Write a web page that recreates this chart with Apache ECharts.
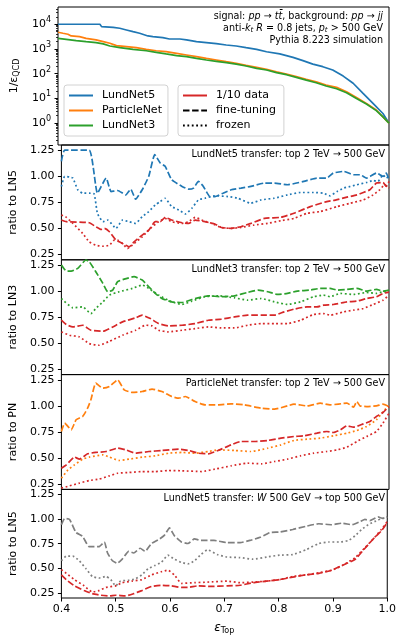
<!DOCTYPE html>
<html>
<head>
<meta charset="utf-8">
<script src="https://cdn.jsdelivr.net/npm/echarts@6/dist/echarts.min.js"></script>
<style>
  html, body { margin: 0; padding: 0; background: #fff; }
  #chart { width: 399px; height: 636px; }
</style>
</head>
<body>
<div id="chart"></div>
<script>
// ---------- data: [epsilon_top, value] ----------
// background rejection 1/eps_QCD of the three taggers trained on 500 GeV tops
const rocLundNet5 = [[0.400,10000],[0.476,10000],[0.479,8035],[0.500,7550],[0.512,6890],[0.524,5890],[0.536,5010],[0.548,4315],[0.563,3365],[0.572,3160],[0.590,2885],[0.602,2540],[0.621,2540],[0.633,2320],[0.651,1980],[0.669,1805],[0.687,1645],[0.705,1450],[0.723,1320],[0.741,1130],[0.760,970],[0.778,775],[0.802,630],[0.826,457],[0.844,337],[0.862,245],[0.880,192],[0.898,141],[0.917,80],[0.935,41],[0.953,16],[0.971,6.3],[0.989,2.45],[1.0,1.0]];
const rocParticleNet = [[0.400,4740],[0.409,4315],[0.418,3935],[0.424,3365],[0.439,3160],[0.451,2690],[0.469,2320],[0.482,1980],[0.494,1700],[0.506,1365],[0.524,1245],[0.542,1130],[0.560,970],[0.578,850],[0.596,775],[0.615,667],[0.633,571],[0.651,490],[0.669,417],[0.687,358],[0.705,306],[0.723,263],[0.741,218],[0.760,181],[0.778,150],[0.796,120],[0.814,97],[0.832,76],[0.850,59],[0.868,47],[0.886,35],[0.905,28],[0.923,18.6],[0.941,11],[0.959,6.3],[0.977,3.4],[0.989,1.8],[1.0,1.0]];
const rocLundNet3 = [[0.400,2700],[0.415,2455],[0.433,2180],[0.451,1980],[0.469,1805],[0.482,1600],[0.494,1320],[0.512,1130],[0.536,970],[0.560,850],[0.578,733],[0.596,630],[0.615,540],[0.633,490],[0.651,417],[0.669,358],[0.687,316],[0.705,279],[0.723,245],[0.741,205],[0.760,164],[0.778,141],[0.796,110],[0.814,91],[0.832,71],[0.850,55],[0.868,43],[0.886,31.6],[0.905,24.5],[0.923,17],[0.941,10],[0.959,5.9],[0.977,3.2],[0.989,1.8],[1.0,1.0]];

// LundNet5 transfer: top 2 TeV -> 500 GeV (ratio to LN5)
const ln5FineTune = [[0.400,1.144],[0.406,1.25],[0.451,1.25],[0.466,0.838],[0.482,0.983],[0.491,0.854],[0.503,0.864],[0.518,0.822],[0.527,0.877],[0.536,0.781],[0.548,0.871],[0.560,1.0],[0.571,1.208],[0.581,1.128],[0.590,1.096],[0.602,0.967],[0.621,0.903],[0.633,0.877],[0.642,0.887],[0.651,0.951],[0.660,0.903],[0.672,0.806],[0.681,0.806],[0.696,0.838],[0.711,0.871],[0.729,0.887],[0.747,0.903],[0.772,0.935],[0.790,0.935],[0.814,0.919],[0.844,0.951],[0.868,0.983],[0.886,0.983],[0.898,1.031],[0.917,1.047],[0.935,1.015],[0.947,1.015],[0.959,0.983],[0.977,1.031],[0.989,1.0],[0.995,1.031],[1.0,0.967]];
const ln5Frozen = [[0.400,0.903],[0.406,1.0],[0.415,0.993],[0.421,0.983],[0.430,0.871],[0.439,0.838],[0.451,0.838],[0.460,0.832],[0.466,0.646],[0.476,0.565],[0.485,0.581],[0.500,0.501],[0.512,0.581],[0.524,0.565],[0.536,0.549],[0.548,0.613],[0.560,0.662],[0.572,0.726],[0.581,0.758],[0.590,0.79],[0.602,0.71],[0.615,0.678],[0.627,0.639],[0.639,0.694],[0.651,0.774],[0.663,0.79],[0.681,0.813],[0.705,0.806],[0.723,0.79],[0.747,0.742],[0.766,0.774],[0.790,0.79],[0.814,0.822],[0.838,0.845],[0.862,0.845],[0.880,0.838],[0.892,0.813],[0.905,0.855],[0.917,0.887],[0.929,0.903],[0.941,0.919],[0.959,0.941],[0.971,0.96],[0.980,0.951],[0.989,1.015],[0.995,0.983],[1.0,1.0]];
const ln5TenthFineTune = [[0.400,0.581],[0.409,0.565],[0.451,0.555],[0.463,0.517],[0.473,0.491],[0.479,0.501],[0.488,0.469],[0.500,0.388],[0.506,0.372],[0.518,0.34],[0.524,0.324],[0.533,0.372],[0.548,0.437],[0.560,0.485],[0.572,0.565],[0.581,0.565],[0.590,0.607],[0.602,0.581],[0.621,0.555],[0.633,0.549],[0.645,0.581],[0.663,0.565],[0.681,0.543],[0.693,0.51],[0.711,0.501],[0.729,0.517],[0.747,0.549],[0.772,0.597],[0.802,0.607],[0.826,0.646],[0.856,0.71],[0.886,0.758],[0.898,0.768],[0.923,0.8],[0.941,0.822],[0.953,0.845],[0.965,0.871],[0.977,0.935],[0.989,0.941],[0.995,0.903],[1.0,0.951]];
const ln5TenthFrozen = [[0.400,0.629],[0.409,0.607],[0.421,0.549],[0.439,0.453],[0.451,0.372],[0.463,0.34],[0.476,0.33],[0.488,0.34],[0.497,0.388],[0.503,0.388],[0.512,0.356],[0.521,0.308],[0.533,0.356],[0.548,0.42],[0.563,0.501],[0.578,0.565],[0.590,0.597],[0.602,0.565],[0.621,0.549],[0.633,0.565],[0.645,0.607],[0.657,0.581],[0.675,0.549],[0.693,0.51],[0.711,0.501],[0.729,0.51],[0.753,0.533],[0.778,0.549],[0.802,0.575],[0.826,0.597],[0.850,0.646],[0.874,0.662],[0.905,0.71],[0.929,0.742],[0.953,0.774],[0.971,0.822],[0.983,0.871],[0.992,0.919],[1.0,0.887]];

// LundNet3 transfer: top 2 TeV -> 500 GeV (ratio to LN3)
const ln3FineTune = [[0.400,1.25],[0.409,1.192],[0.418,1.192],[0.430,1.218],[0.445,1.298],[0.451,1.282],[0.463,1.186],[0.476,1.074],[0.485,0.994],[0.494,1.01],[0.503,1.09],[0.515,1.115],[0.533,1.138],[0.548,1.106],[0.560,1.042],[0.572,0.978],[0.584,0.929],[0.602,0.897],[0.621,0.891],[0.645,0.929],[0.669,0.955],[0.693,0.946],[0.717,0.955],[0.741,0.987],[0.760,1.01],[0.778,0.994],[0.796,0.968],[0.814,0.978],[0.832,1.0],[0.856,1.01],[0.874,1.026],[0.892,1.026],[0.905,1.01],[0.923,1.016],[0.941,1.026],[0.959,1.0],[0.977,1.016],[0.989,1.0],[1.0,1.01]];
const ln3Frozen = [[0.400,0.929],[0.421,0.84],[0.439,0.849],[0.454,0.785],[0.463,0.833],[0.476,0.897],[0.488,0.962],[0.506,0.994],[0.530,1.026],[0.548,1.058],[0.560,1.026],[0.578,0.962],[0.602,0.897],[0.621,0.872],[0.639,0.904],[0.663,0.946],[0.687,0.955],[0.717,0.936],[0.741,0.913],[0.766,0.929],[0.790,0.897],[0.814,0.872],[0.838,0.897],[0.862,0.946],[0.880,0.962],[0.892,0.946],[0.911,0.978],[0.935,0.968],[0.959,0.987],[0.977,0.978],[0.989,0.994],[1.0,1.0]];
const ln3TenthFineTune = [[0.400,0.721],[0.409,0.679],[0.421,0.657],[0.439,0.673],[0.454,0.625],[0.476,0.615],[0.494,0.657],[0.512,0.705],[0.536,0.744],[0.548,0.769],[0.563,0.737],[0.578,0.689],[0.596,0.667],[0.621,0.673],[0.645,0.689],[0.669,0.721],[0.693,0.731],[0.717,0.753],[0.741,0.769],[0.766,0.769],[0.790,0.769],[0.808,0.801],[0.826,0.827],[0.850,0.849],[0.868,0.849],[0.880,0.865],[0.898,0.872],[0.923,0.897],[0.941,0.904],[0.959,0.929],[0.977,0.946],[0.989,0.978],[1.0,0.99]];
const ln3TenthFrozen = [[0.400,0.609],[0.415,0.577],[0.433,0.561],[0.451,0.497],[0.469,0.481],[0.488,0.519],[0.512,0.577],[0.536,0.625],[0.554,0.673],[0.566,0.667],[0.578,0.625],[0.596,0.609],[0.621,0.625],[0.645,0.641],[0.669,0.657],[0.693,0.647],[0.717,0.647],[0.741,0.673],[0.766,0.689],[0.790,0.689],[0.814,0.689],[0.838,0.721],[0.862,0.776],[0.880,0.785],[0.892,0.769],[0.917,0.801],[0.935,0.817],[0.953,0.833],[0.971,0.872],[0.989,0.913],[1.0,0.962]];

// ParticleNet transfer: top 2 TeV -> 500 GeV (ratio to PN)
const pnFineTune = [[0.400,0.755],[0.406,0.835],[0.418,0.771],[0.427,0.867],[0.439,0.899],[0.448,0.978],[0.454,1.058],[0.463,1.218],[0.476,1.17],[0.488,1.186],[0.503,1.25],[0.515,1.154],[0.530,1.129],[0.548,1.138],[0.566,1.161],[0.584,1.138],[0.602,1.09],[0.615,1.074],[0.627,1.09],[0.645,1.042],[0.663,1.01],[0.687,1.01],[0.711,1.02],[0.735,1.01],[0.766,0.978],[0.790,0.969],[0.814,1.0],[0.826,1.017],[0.850,1.0],[0.874,1.026],[0.892,1.01],[0.923,1.026],[0.935,0.988],[0.941,1.042],[0.947,1.0],[0.959,0.994],[0.977,1.0],[0.989,1.017],[1.0,0.994]];
const pnFrozen = [[0.400,0.307],[0.412,0.387],[0.424,0.435],[0.439,0.49],[0.451,0.509],[0.476,0.531],[0.488,0.509],[0.506,0.477],[0.524,0.49],[0.548,0.509],[0.572,0.522],[0.596,0.547],[0.621,0.554],[0.645,0.547],[0.669,0.563],[0.687,0.579],[0.717,0.573],[0.747,0.563],[0.778,0.595],[0.802,0.627],[0.826,0.669],[0.850,0.681],[0.874,0.691],[0.898,0.713],[0.923,0.739],[0.941,0.764],[0.959,0.803],[0.977,0.867],[0.992,0.962],[1.0,0.994]];
const pnTenthFineTune = [[0.400,0.403],[0.409,0.435],[0.424,0.509],[0.433,0.49],[0.448,0.541],[0.463,0.554],[0.482,0.563],[0.503,0.595],[0.518,0.579],[0.536,0.547],[0.560,0.563],[0.584,0.573],[0.615,0.585],[0.633,0.573],[0.651,0.547],[0.669,0.541],[0.687,0.573],[0.711,0.627],[0.729,0.659],[0.753,0.659],[0.778,0.669],[0.802,0.691],[0.826,0.707],[0.844,0.713],[0.868,0.739],[0.886,0.755],[0.898,0.745],[0.911,0.771],[0.923,0.809],[0.935,0.796],[0.953,0.828],[0.965,0.851],[0.977,0.899],[0.989,0.937],[1.0,0.994]];
const pnTenthFrozen = [[0.400,0.212],[0.415,0.234],[0.433,0.26],[0.451,0.285],[0.469,0.298],[0.488,0.33],[0.503,0.355],[0.524,0.362],[0.548,0.371],[0.572,0.371],[0.596,0.381],[0.621,0.378],[0.657,0.371],[0.681,0.394],[0.711,0.426],[0.741,0.451],[0.766,0.445],[0.790,0.467],[0.814,0.49],[0.838,0.522],[0.862,0.547],[0.886,0.563],[0.905,0.579],[0.923,0.605],[0.941,0.659],[0.959,0.707],[0.977,0.755],[0.989,0.835],[1.0,0.93]];

// LundNet5 transfer: W 500 GeV -> top 500 GeV (ratio to LN5)
const wFineTune = [[0.400,0.942],[0.406,1.006],[0.415,0.996],[0.427,0.863],[0.439,0.825],[0.451,0.72],[0.469,0.72],[0.479,0.767],[0.485,0.656],[0.494,0.577],[0.503,0.552],[0.512,0.593],[0.524,0.672],[0.533,0.656],[0.545,0.704],[0.554,0.672],[0.566,0.752],[0.581,0.799],[0.590,0.837],[0.599,0.91],[0.608,0.831],[0.621,0.767],[0.633,0.752],[0.645,0.799],[0.657,0.783],[0.681,0.783],[0.705,0.761],[0.729,0.761],[0.747,0.783],[0.766,0.815],[0.784,0.863],[0.802,0.869],[0.826,0.894],[0.850,0.926],[0.874,0.952],[0.898,0.942],[0.917,0.958],[0.935,0.942],[0.950,0.974],[0.959,0.996],[0.968,0.983],[0.983,1.021],[0.992,1.006],[1.0,1.021]];
const wFrozen = [[0.400,0.577],[0.409,0.625],[0.421,0.625],[0.433,0.577],[0.445,0.498],[0.457,0.418],[0.469,0.402],[0.482,0.418],[0.491,0.386],[0.500,0.323],[0.509,0.371],[0.524,0.38],[0.536,0.393],[0.548,0.434],[0.560,0.498],[0.572,0.529],[0.584,0.561],[0.596,0.634],[0.608,0.593],[0.621,0.561],[0.633,0.545],[0.645,0.577],[0.657,0.64],[0.669,0.688],[0.687,0.64],[0.705,0.615],[0.729,0.609],[0.753,0.593],[0.778,0.615],[0.802,0.634],[0.826,0.64],[0.850,0.688],[0.874,0.752],[0.892,0.767],[0.911,0.767],[0.929,0.783],[0.941,0.831],[0.953,0.894],[0.965,0.942],[0.983,0.99],[1.0,1.021]];
const wTenthFineTune = [[0.400,0.434],[0.409,0.386],[0.424,0.323],[0.442,0.275],[0.457,0.244],[0.473,0.228],[0.488,0.221],[0.500,0.228],[0.518,0.221],[0.533,0.244],[0.548,0.275],[0.566,0.317],[0.584,0.329],[0.602,0.323],[0.621,0.307],[0.633,0.307],[0.651,0.323],[0.675,0.317],[0.705,0.323],[0.729,0.329],[0.753,0.355],[0.778,0.371],[0.802,0.386],[0.826,0.412],[0.850,0.434],[0.874,0.45],[0.898,0.482],[0.917,0.529],[0.941,0.593],[0.959,0.704],[0.977,0.815],[0.989,0.879],[1.0,0.964]];
const wTenthFrozen = [[0.400,0.488],[0.409,0.45],[0.424,0.386],[0.442,0.323],[0.457,0.26],[0.469,0.275],[0.482,0.307],[0.500,0.323],[0.512,0.355],[0.530,0.371],[0.548,0.386],[0.566,0.434],[0.584,0.466],[0.596,0.482],[0.608,0.434],[0.621,0.348],[0.645,0.355],[0.669,0.361],[0.705,0.371],[0.729,0.355],[0.753,0.361],[0.778,0.371],[0.802,0.386],[0.826,0.418],[0.850,0.434],[0.874,0.456],[0.898,0.482],[0.917,0.529],[0.941,0.609],[0.959,0.71],[0.977,0.815],[0.989,0.894],[1.0,0.974]];

// axis ticks
const ratioTicks = [0.25, 0.5, 0.75, 1.0, 1.25];
const panelTitles = [
  'LundNet5 transfer: top 2 TeV \u2192 500 GeV',
  'LundNet3 transfer: top 2 TeV \u2192 500 GeV',
  'ParticleNet transfer: top 2 TeV \u2192 500 GeV',
  'LundNet5 transfer: {i|W} 500 GeV \u2192 top 500 GeV'
];
const ratioNames = ['ratio to LN5', 'ratio to LN3', 'ratio to PN', 'ratio to LN5'];

// ---------- styling ----------
const C = { blue: '#1f77b4', orange: '#ff7f0e', green: '#2ca02c', red: '#d62728', gray: '#7f7f7f', black: '#000' };
const FONT = 'DejaVu Sans';
const DASH = [6.5, 2.6];
const DOT = [1.8, 2.6];
const LW = 1.7;
const TXT = 9.6;

const LEFT = 58, WIDTH = 331;
const TOPS = [7, 145, 259.8, 374.6, 489.4];
const HEIGHTS = [138, 114.8, 114.8, 114.8, 114.6];

const grids = TOPS.map((t, i) => ({
  left: LEFT, top: t, width: WIDTH, height: HEIGHTS[i],
  show: true, borderColor: '#000', borderWidth: 1, backgroundColor: 'transparent'
}));

const xAxes = TOPS.map((t, i) => {
  const last = i === TOPS.length - 1;
  return {
    type: 'value', gridIndex: i, min: 0.4, max: 1.0, interval: 0.1,
    axisLine: { show: false },
    splitLine: { show: false },
    axisTick: { show: last, length: 3.5, lineStyle: { color: '#000', width: 1 } },
    axisLabel: {
      show: last, margin: 6, fontSize: 11, fontFamily: FONT, color: '#000',
      formatter: v => v.toFixed(1)
    },
    name: last ? '{e|\u03b5}{sub|Top}' : '',
    nameLocation: 'middle', nameGap: 23,
    nameTextStyle: {
      fontFamily: FONT, color: '#000', fontSize: 11,
      rich: { e: { fontSize: 12, fontFamily: FONT, fontStyle: 'italic', color: '#000' },
              sub: { fontSize: 8, fontFamily: FONT, color: '#000', verticalAlign: 'bottom', padding: [6, 0, 0, 0] } }
    }
  };
});

// minor tick positions of the log axis (2..9 x each decade)
const minorLog = [];
for (let d = -1; d <= 4; d++) for (let m = 2; m <= 9; m++) {
  const v = m * Math.pow(10, d);
  if (v > 0.13 && v < 50000) minorLog.push(v);
}

const yAxes = [
  {
    type: 'log', logBase: 10, gridIndex: 0, min: 0.13, max: 50000,
    axisLine: { show: false }, splitLine: { show: false },
    axisTick: { length: 3.5, lineStyle: { color: '#000', width: 1 } },
    axisLabel: {
      showMinLabel: false, showMaxLabel: false, margin: 7,
      fontSize: 11, fontFamily: FONT, color: '#000', lineHeight: 16,
      formatter: v => '10{sup|' + Math.round(Math.log10(v)) + '}',
      rich: { sup: { fontSize: 8, fontFamily: FONT, color: '#000', lineHeight: 8, verticalAlign: 'top', padding: [0, 0, 7, 0] } }
    },
    name: '1/\u03b5{sub|QCD}', nameLocation: 'middle', nameGap: 35,
    nameTextStyle: {
      fontSize: 11, fontFamily: FONT, color: '#000',
      rich: { sub: { fontSize: 8, fontFamily: FONT, color: '#000', verticalAlign: 'bottom', padding: [5, 0, 0, 0] } }
    }
  }
];
for (let i = 1; i <= 4; i++) {
  yAxes.push({
    type: 'value', gridIndex: i, min: 0.2, max: 1.3,
    axisLine: { show: false }, splitLine: { show: false },
    axisTick: { length: 3.5, customValues: ratioTicks, lineStyle: { color: '#000', width: 1 } },
    axisLabel: { margin: 7, fontSize: 11, fontFamily: FONT, color: '#000', customValues: ratioTicks, formatter: v => v.toFixed(2) },
    name: ratioNames[i - 1], nameLocation: 'middle', nameGap: 35,
    nameTextStyle: { fontSize: 11, fontFamily: FONT, color: '#000' }
  });
}
// minor ticks on the log axis
yAxes.push({
  type: 'log', logBase: 10, gridIndex: 0, min: 0.13, max: 50000, position: 'left',
  axisLine: { show: false }, splitLine: { show: false }, axisLabel: { show: false },
  axisTick: { length: 2, customValues: minorLog, lineStyle: { color: '#000', width: 0.8 } }
});

function line(name, data, color, dash, grid, smooth) {
  return {
    type: 'line', name, data, xAxisIndex: grid, yAxisIndex: grid,
    symbol: 'none', smooth: smooth ? 0.15 : false, silent: true, clip: true,
    color,
    lineStyle: { color, width: LW, type: dash || 'solid', cap: 'butt' }
  };
}

const series = [
  line('LundNet5', rocLundNet5, C.blue, null, 0, false),
  line('ParticleNet', rocParticleNet, C.orange, null, 0, false),
  line('LundNet3', rocLundNet3, C.green, null, 0, false),
  // legend-only entries for the line-style key
  line('1/10 data', [], C.red, null, 0, false),
  line('fine-tuning', [], C.black, DASH, 0, false),
  line('frozen', [], C.black, DOT, 0, false),

  line('LN5 ft', ln5FineTune, C.blue, DASH, 1, true),
  line('LN5 fz', ln5Frozen, C.blue, DOT, 1, true),
  line('LN5 1/10 ft', ln5TenthFineTune, C.red, DASH, 1, true),
  line('LN5 1/10 fz', ln5TenthFrozen, C.red, DOT, 1, true),

  line('LN3 ft', ln3FineTune, C.green, DASH, 2, true),
  line('LN3 fz', ln3Frozen, C.green, DOT, 2, true),
  line('LN3 1/10 ft', ln3TenthFineTune, C.red, DASH, 2, true),
  line('LN3 1/10 fz', ln3TenthFrozen, C.red, DOT, 2, true),

  line('PN ft', pnFineTune, C.orange, DASH, 3, true),
  line('PN fz', pnFrozen, C.orange, DOT, 3, true),
  line('PN 1/10 ft', pnTenthFineTune, C.red, DASH, 3, true),
  line('PN 1/10 fz', pnTenthFrozen, C.red, DOT, 3, true),

  line('W ft', wFineTune, C.gray, DASH, 4, true),
  line('W fz', wFrozen, C.gray, DOT, 4, true),
  line('W 1/10 ft', wTenthFineTune, C.red, DASH, 4, true),
  line('W 1/10 fz', wTenthFrozen, C.red, DOT, 4, true)
];

const legendBase = {
  orient: 'vertical', top: 85, itemWidth: 24, itemHeight: 12, itemGap: 4,
  borderColor: '#d2d2d2', borderWidth: 1, borderRadius: 3,
  backgroundColor: 'rgba(255,255,255,0.8)',
  selectedMode: false,
  // line-only key: hide the marker drawn in the middle of each sample line
  itemStyle: { color: 'rgba(0,0,0,0)', borderColor: 'rgba(0,0,0,0)', borderWidth: 0 },
  textStyle: { fontSize: 11, fontFamily: FONT, color: '#000', padding: [0, 0, 0, 4] }
};

const italic = { fontStyle: 'italic', fontFamily: FONT, fontSize: TXT, fill: '#000', color: '#000' };
const subI = { fontStyle: 'italic', fontFamily: FONT, fontSize: 7, fill: '#000', color: '#000', verticalAlign: 'bottom', padding: [4, 0, 0, 0] };
const textRich = { i: italic, si: subI };

function txt(x, y, text) {
  return {
    type: 'text', x, y, silent: true,
    style: {
      text, rich: textRich,
      font: TXT + 'px "DejaVu Sans"', fontSize: TXT, fontFamily: FONT,
      fill: '#000', align: 'right', verticalAlign: 'middle'
    }
  };
}

const graphic = [
  txt(383, 16, 'signal: {i|pp} \u2192 {i|t}{i|t\u0304}, background: {i|pp} \u2192 {i|jj}'),
  txt(383, 28, 'anti-{i|k}{si|t} {i|R} = 0.8 jets, {i|p}{si|t} > 500 GeV'),
  txt(383, 40, 'Pythia 8.223 simulation'),
  txt(385, 154, panelTitles[0]),
  txt(385, 269, panelTitles[1]),
  txt(385, 383, panelTitles[2]),
  txt(385, 498, panelTitles[3])
];

const chart = echarts.init(document.getElementById('chart'), null, { renderer: 'canvas' });
chart.setOption({
  animation: false,
  backgroundColor: '#fff',
  grid: grids,
  xAxis: xAxes,
  yAxis: yAxes,
  legend: [
    Object.assign({}, legendBase, { left: 64, padding: [5, 6, 5, 4], data: ['LundNet5', 'ParticleNet', 'LundNet3'] }),
    Object.assign({}, legendBase, { left: 178, padding: [5, 8, 5, 4], data: ['1/10 data', 'fine-tuning', 'frozen'] })
  ],
  series,
  graphic
});
</script>
</body>
</html>
